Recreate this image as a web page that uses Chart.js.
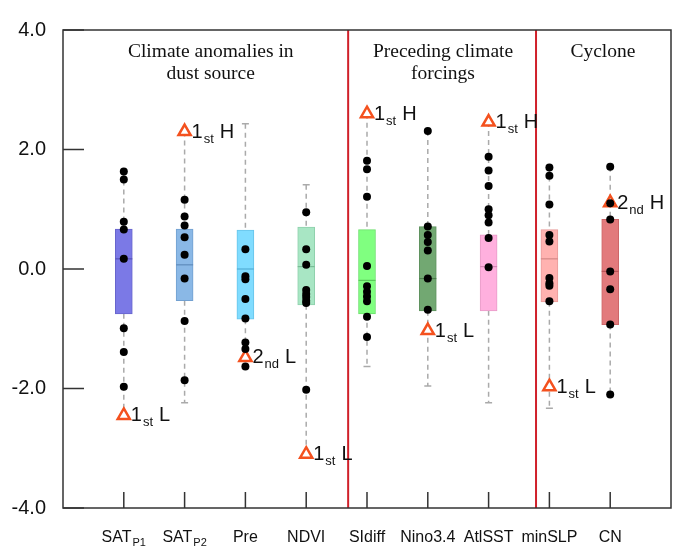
<!DOCTYPE html>
<html>
<head>
<meta charset="utf-8">
<script src="https://cdn.jsdelivr.net/npm/chart.js@4.4.1/dist/chart.umd.min.js"></script>
<style>
  html, body { margin: 0; padding: 0; background: #fff; }
  canvas { display: block; }
</style>
</head>
<body>
<canvas id="boxChart" width="700" height="558"></canvas>
<script>
"use strict";

// Categories (main text + subscript)
const CAT_MAIN = ["SAT", "SAT", "Pre", "NDVI", "SIdiff", "Nino3.4", "AtlSST", "minSLP", "CN"];
const CAT_SUB  = ["P1", "P2", "", "", "", "", "", "", ""];

// Box statistics
const Q3     = [0.67, 0.67, 0.65, 0.70, 0.66, 0.71, 0.57, 0.66, 0.83];
const MEDIAN = [0.17, 0.07, 0.00, 0.04, -0.19, -0.16, 0.04, 0.17, -0.04];
const Q1     = [-0.75, -0.53, -0.84, -0.60, -0.75, -0.70, -0.70, -0.55, -0.93];
const W_HI   = [1.63, 2.30, 2.43, 1.41, 2.60, 2.31, 2.46, 1.70, 1.71];
const W_LO   = [-2.45, -2.24, -1.63, -3.10, -1.63, -1.96, -2.24, -2.33, -2.10];

// Individual years (black dots)
const DOTS = [
  [1.63, 1.50, 0.79, 0.66, 0.17, -0.99, -1.39, -1.97],
  [1.16, 0.88, 0.73, 0.53, 0.24, -0.16, -0.87, -1.86],
  [0.33, -0.12, -0.17, -0.50, -0.83, -1.23, -1.34, -1.63],
  [0.95, 0.33, 0.07, -0.35, -0.42, -0.47, -0.53, -0.57, -2.02],
  [1.81, 1.67, 1.21, 0.05, -0.29, -0.38, -0.46, -0.54, -0.80, -1.14],
  [2.31, 0.71, 0.57, 0.45, 0.31, -0.16, -0.68],
  [1.88, 1.65, 1.39, 1.00, 0.90, 0.78, 0.52, 0.03],
  [1.70, 1.56, 1.08, 0.57, 0.46, -0.15, -0.24, -0.28, -0.54],
  [1.71, 1.10, 0.83, -0.04, -0.34, -0.93, -2.10]
];

// Highlighted extremes (triangles)
const MARK_VAL  = [-2.45, 2.30, -1.48, -3.10, 2.60, -1.03, 2.46, -1.97, 1.11];
const MARK_RANK = ["1", "1", "2", "1", "1", "1", "1", "1", "2"];
const MARK_SUF  = ["st", "st", "nd", "st", "st", "st", "st", "st", "nd"];
const MARK_HL   = ["L", "H", "L", "L", "H", "L", "H", "L", "H"];

// Axis ticks and group separators
const Y_TICKS = [-4, -2, 0, 2, 4];
const SEPARATORS = [4.69, 7.78];
const GROUP_TITLES = [
  { x: 2.43, lines: ["Climate anomalies in", "dust source"] },
  { x: 6.25, lines: ["Preceding climate", "forcings"] },
  { x: 8.88, lines: ["Cyclone"] }
];

const BOX_FILL   = ["#7b79e6", "#8ab8e6", "#80dcff", "#a8e6c4", "#80ff80", "#72a872", "#ffb0de", "#ffb2b0", "#e27a7c"];
const BOX_BORDER = ["#6765cc", "#72a0d0", "#68c4ea", "#8fd0ac", "#6ce06c", "#5e925e", "#e89cc8", "#e89c9a", "#cc6668"];
const MED_LINE   = ["#5553b8", "#5f8cbc", "#52aed6", "#78bc96", "#58c858", "#4c7e4c", "#d486b4", "#d48886", "#b85456"];

const SANS  = "'Liberation Sans', Arial, sans-serif";
const SERIF = "'Liberation Serif', 'Times New Roman', serif";

const xPos = CAT_MAIN.map((_, i) => i + 1);

const boxDecor = {
  id: "boxDecor",
  beforeDatasetsDraw(chart) {
    const { ctx, scales: { x, y } } = chart;
    ctx.save();
    ctx.strokeStyle = "#aaaaaa";
    ctx.lineWidth = 1.5;
    xPos.forEach((xv, i) => {
      const px = x.getPixelForValue(xv);
      ctx.setLineDash([5, 4]);
      ctx.beginPath();
      ctx.moveTo(px, y.getPixelForValue(W_HI[i]));
      ctx.lineTo(px, y.getPixelForValue(Q3[i]));
      ctx.moveTo(px, y.getPixelForValue(Q1[i]));
      ctx.lineTo(px, y.getPixelForValue(W_LO[i]));
      ctx.stroke();
      ctx.setLineDash([]);
      ctx.beginPath();
      [W_HI[i], W_LO[i]].forEach(v => {
        const py = y.getPixelForValue(v);
        ctx.moveTo(px - 3.5, py);
        ctx.lineTo(px + 3.5, py);
      });
      ctx.stroke();
    });
    ctx.restore();
  },
  afterDraw(chart) {
    const { ctx, chartArea: a, scales: { x, y } } = chart;
    ctx.save();

    // red group separators
    ctx.strokeStyle = "#d0202a";
    ctx.lineWidth = 2;
    SEPARATORS.forEach(s => {
      const px = x.getPixelForValue(s);
      ctx.beginPath();
      ctx.moveTo(px, a.top);
      ctx.lineTo(px, a.bottom);
      ctx.stroke();
    });

    // frame + inward ticks
    ctx.strokeStyle = "#333";
    ctx.lineWidth = 1.5;
    ctx.strokeRect(a.left, a.top, a.right - a.left, a.bottom - a.top);
    ctx.beginPath();
    Y_TICKS.forEach(v => {
      const py = y.getPixelForValue(v);
      ctx.moveTo(a.left, py);
      ctx.lineTo(a.left + 21, py);
    });
    xPos.forEach(xv => {
      const px = x.getPixelForValue(xv);
      ctx.moveTo(px, a.bottom);
      ctx.lineTo(px, a.bottom - 16);
    });
    ctx.stroke();

    // group titles
    ctx.fillStyle = "#111";
    ctx.font = "19.5px " + SERIF;
    ctx.textAlign = "center";
    ctx.textBaseline = "middle";
    GROUP_TITLES.forEach(g => {
      g.lines.forEach((line, j) => {
        ctx.fillText(line, x.getPixelForValue(g.x), a.top + 22 + j * 21.5);
      });
    });

    // x labels with subscripts
    ctx.textAlign = "left";
    ctx.textBaseline = "alphabetic";
    xPos.forEach((xv, i) => {
      ctx.font = "16px " + SANS;
      const wMain = ctx.measureText(CAT_MAIN[i]).width;
      ctx.font = "11px " + SANS;
      const wSub = CAT_SUB[i] ? ctx.measureText(CAT_SUB[i]).width + 1 : 0;
      const left = x.getPixelForValue(xv) - (wMain + wSub) / 2;
      const base = a.bottom + 34;
      ctx.font = "16px " + SANS;
      ctx.fillText(CAT_MAIN[i], left, base);
      if (CAT_SUB[i]) {
        ctx.font = "11px " + SANS;
        ctx.fillText(CAT_SUB[i], left + wMain + 1, base + 4);
      }
    });

    // triangle annotations (1st H, 2nd L ...)
    xPos.forEach((xv, i) => {
      const px = x.getPixelForValue(xv) + 7;
      const py = y.getPixelForValue(MARK_VAL[i]) + 6;
      ctx.font = "20px " + SANS;
      ctx.fillText(MARK_RANK[i], px, py);
      let cx = px + ctx.measureText(MARK_RANK[i]).width + 1;
      ctx.font = "13px " + SANS;
      ctx.fillText(MARK_SUF[i], cx, py + 5);
      cx += ctx.measureText(MARK_SUF[i]).width + 6;
      ctx.font = "20px " + SANS;
      ctx.fillText(MARK_HL[i], cx, py);
    });
    ctx.restore();
  }
};

new Chart(document.getElementById("boxChart").getContext("2d"), {
  type: "bar",
  data: {
    datasets: [
      {
        type: "bar",
        order: 4,
        data: xPos.map((xv, i) => ({ x: xv, y: [Q1[i], Q3[i]] })),
        backgroundColor: BOX_FILL,
        borderColor: BOX_BORDER,
        borderWidth: 1,
        borderSkipped: false,
        barThickness: 17,
        grouped: false
      },
      {
        type: "scatter",
        order: 3,
        data: xPos.map((xv, i) => ({ x: xv, y: MEDIAN[i] })),
        pointStyle: "line",
        radius: 8.5,
        borderColor: MED_LINE,
        borderWidth: 1.2
      },
      {
        type: "scatter",
        order: 2,
        data: xPos.map((xv, i) => ({ x: xv, y: MARK_VAL[i] })),
        pointStyle: "triangle",
        radius: 7,
        borderColor: "#f4511e",
        backgroundColor: "#fff",
        borderWidth: 2.5
      },
      {
        type: "scatter",
        order: 1,
        data: DOTS.flatMap((vals, i) => vals.map(v => ({ x: xPos[i], y: v }))),
        pointStyle: "circle",
        radius: 4,
        backgroundColor: "#000",
        borderColor: "#000",
        borderWidth: 0
      }
    ]
  },
  options: {
    responsive: false,
    animation: false,
    layout: { padding: { top: 30, right: 29, bottom: 50, left: 0 } },
    plugins: {
      legend: { display: false },
      tooltip: { enabled: false }
    },
    scales: {
      x: {
        type: "linear",
        min: 0,
        max: 10,
        offset: false,
        display: false
      },
      y: {
        min: -4,
        max: 4,
        grid: { display: false, drawTicks: false },
        border: { display: false },
        ticks: {
          stepSize: 2,
          padding: 17,
          color: "#111",
          font: { family: "'Liberation Sans', Arial, sans-serif", size: 20 },
          callback: v => v.toFixed(1)
        },
        afterFit: s => { s.width = 63; }
      }
    }
  },
  plugins: [boxDecor]
});
</script>
</body>
</html>
